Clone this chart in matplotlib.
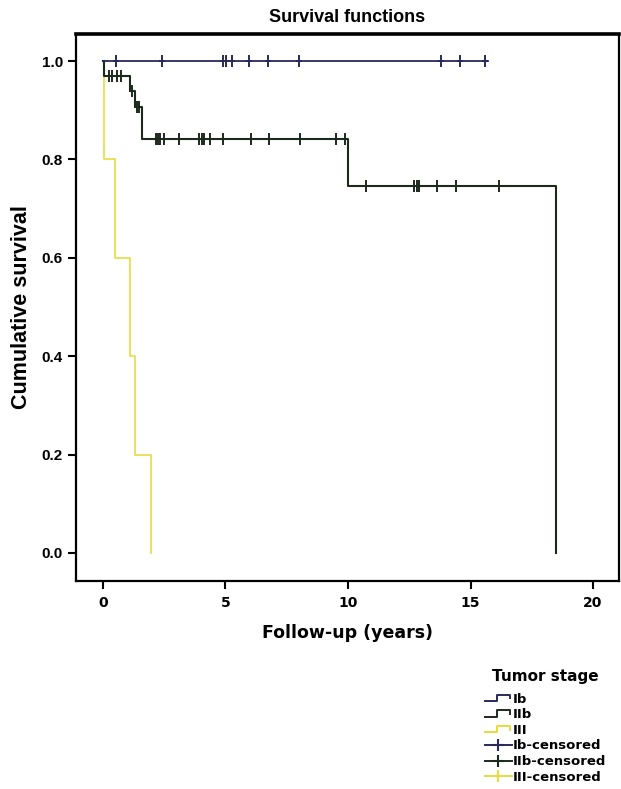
import numpy as np
import matplotlib
matplotlib.use("Agg")
import matplotlib.pyplot as plt
from matplotlib.lines import Line2D
from matplotlib.legend_handler import HandlerBase

# ---- data ----
ib_times = [0.0, 15.7]
ib_surv = [1.0, 1.0]
ib_censor = [0.52, 2.41, 4.91, 5.01, 5.25, 5.97, 6.73, 8.01, 13.8, 14.56, 15.6]

iib_times = [0.0, 0.05, 1.1, 1.3, 1.6, 10.0, 18.5]
iib_surv = [1.0, 0.97, 0.94, 0.907, 0.841, 0.747, 0.0]
iib_censor = [0.26, 0.35, 0.56, 0.72, 1.17, 1.40, 1.48, 2.16, 2.23, 2.33, 2.49,
              3.11, 3.92, 4.03, 4.13, 4.37, 4.91, 6.04, 6.79, 8.04, 9.51, 9.88,
              10.73, 12.69, 12.83, 12.91, 13.64, 14.4, 16.16]

iii_times = [0.0, 0.05, 0.49, 1.1, 1.31, 1.95]
iii_surv = [1.0, 0.8, 0.6, 0.4, 0.2, 0.0]
iii_censor = []

x_ticks = [0, 5, 10, 15, 20]
y_ticks = [0.0, 0.2, 0.4, 0.6, 0.8, 1.0]

c_ib = "#2a2a5a"
c_iib = "#1c2a1c"
c_iii = "#e8dc40"


def surv_at(times, surv, t):
    idx = np.searchsorted(times, t, side="right") - 1
    return surv[idx]


fig = plt.figure(figsize=(6.21, 7.89), dpi=100)
ax = fig.add_axes([76 / 621, 1 - 581 / 789, (619 - 76) / 621, (581 - 34) / 789])

for times, surv, cens, col, lw in [(iii_times, iii_surv, iii_censor, c_iii, 1.2),
                                   (iib_times, iib_surv, iib_censor, c_iib, 1.5),
                                   (ib_times, ib_surv, ib_censor, c_ib, 1.3)]:
    ax.step(times, surv, where="post", color=col, lw=lw)
    if cens:
        ys = [surv_at(times, surv, t) for t in cens]
        ax.plot(cens, ys, ls="none", marker="|", ms=9, mew=1.4, color=col)
        ax.plot(cens, ys, ls="none", marker="_", ms=5, mew=1.4, color=col)

ax.set_xlim(-1.1, 21.06)
ax.set_ylim(-0.057, 1.055)
ax.set_xticks(x_ticks)
ax.set_yticks(y_ticks)
ax.set_xticklabels([str(v) for v in x_ticks], fontfamily="DejaVu Sans",
                   fontweight="bold", fontsize=10)
ax.set_yticklabels(["%.1f" % v for v in y_ticks], fontfamily="Liberation Sans",
                   fontweight="bold", fontsize=11)
ax.tick_params(axis="both", direction="out", length=6, width=1.5, color="black")
ax.tick_params(axis="x", pad=5)
for s in ["left", "bottom", "right"]:
    ax.spines[s].set_linewidth(1.6)
ax.spines["top"].set_linewidth(2.6)

ax.set_title("Survival functions", fontfamily="Liberation Sans", fontweight="bold",
             fontsize=13, pad=9)
ax.set_xlabel("Follow-up (years)", fontfamily="DejaVu Sans", fontweight="bold",
              fontsize=12.5, labelpad=10)
ax.set_ylabel("Cumulative survival", fontfamily="Liberation Sans", fontweight="bold",
              fontsize=15.5, labelpad=7)


class StepHandler(HandlerBase):
    def create_artists(self, legend, orig_handle, xdescent, ydescent, width, height,
                       fontsize, trans):
        xs = np.array([0.0, 0.45, 0.45, 0.95, 0.95]) * width - xdescent
        ys = np.array([0.15, 0.15, 0.85, 0.85, 0.45]) * height - ydescent
        ln = Line2D(xs, ys, color=orig_handle.get_color(), lw=1.4, transform=trans)
        return [ln]


h_ib = Line2D([], [], color=c_ib)
h_iib = Line2D([], [], color=c_iib)
h_iii = Line2D([], [], color=c_iii)
h_ibc = Line2D([], [], color=c_ib, marker="+", ms=9, mew=1.5, lw=1.4)
h_iibc = Line2D([], [], color=c_iib, marker="+", ms=9, mew=1.5, lw=1.4)
h_iiic = Line2D([], [], color=c_iii, marker="+", ms=9, mew=1.5, lw=1.4)

leg = fig.legend([h_ib, h_iib, h_iii, h_ibc, h_iibc, h_iiic],
                 ["Ib", "IIb", "III", "Ib-censored", "IIb-censored", "III-censored"],
                 handler_map={h_ib: StepHandler(), h_iib: StepHandler(), h_iii: StepHandler()},
                 loc="upper left", bbox_to_anchor=(476 / 621, 1 - 660 / 789),
                 frameon=False, title="Tumor stage", handlelength=2.0, handletextpad=0.1,
                 labelspacing=0.2, borderpad=0.2,
                 prop={"family": "DejaVu Sans", "weight": "bold", "size": 9.5})
leg.get_title().set_fontfamily("DejaVu Sans")
leg.get_title().set_fontweight("bold")
leg.get_title().set_fontsize(11)
leg._legend_box.align = "center"
leg._legend_box.sep = 6

fig.savefig("out.png", dpi=100)
